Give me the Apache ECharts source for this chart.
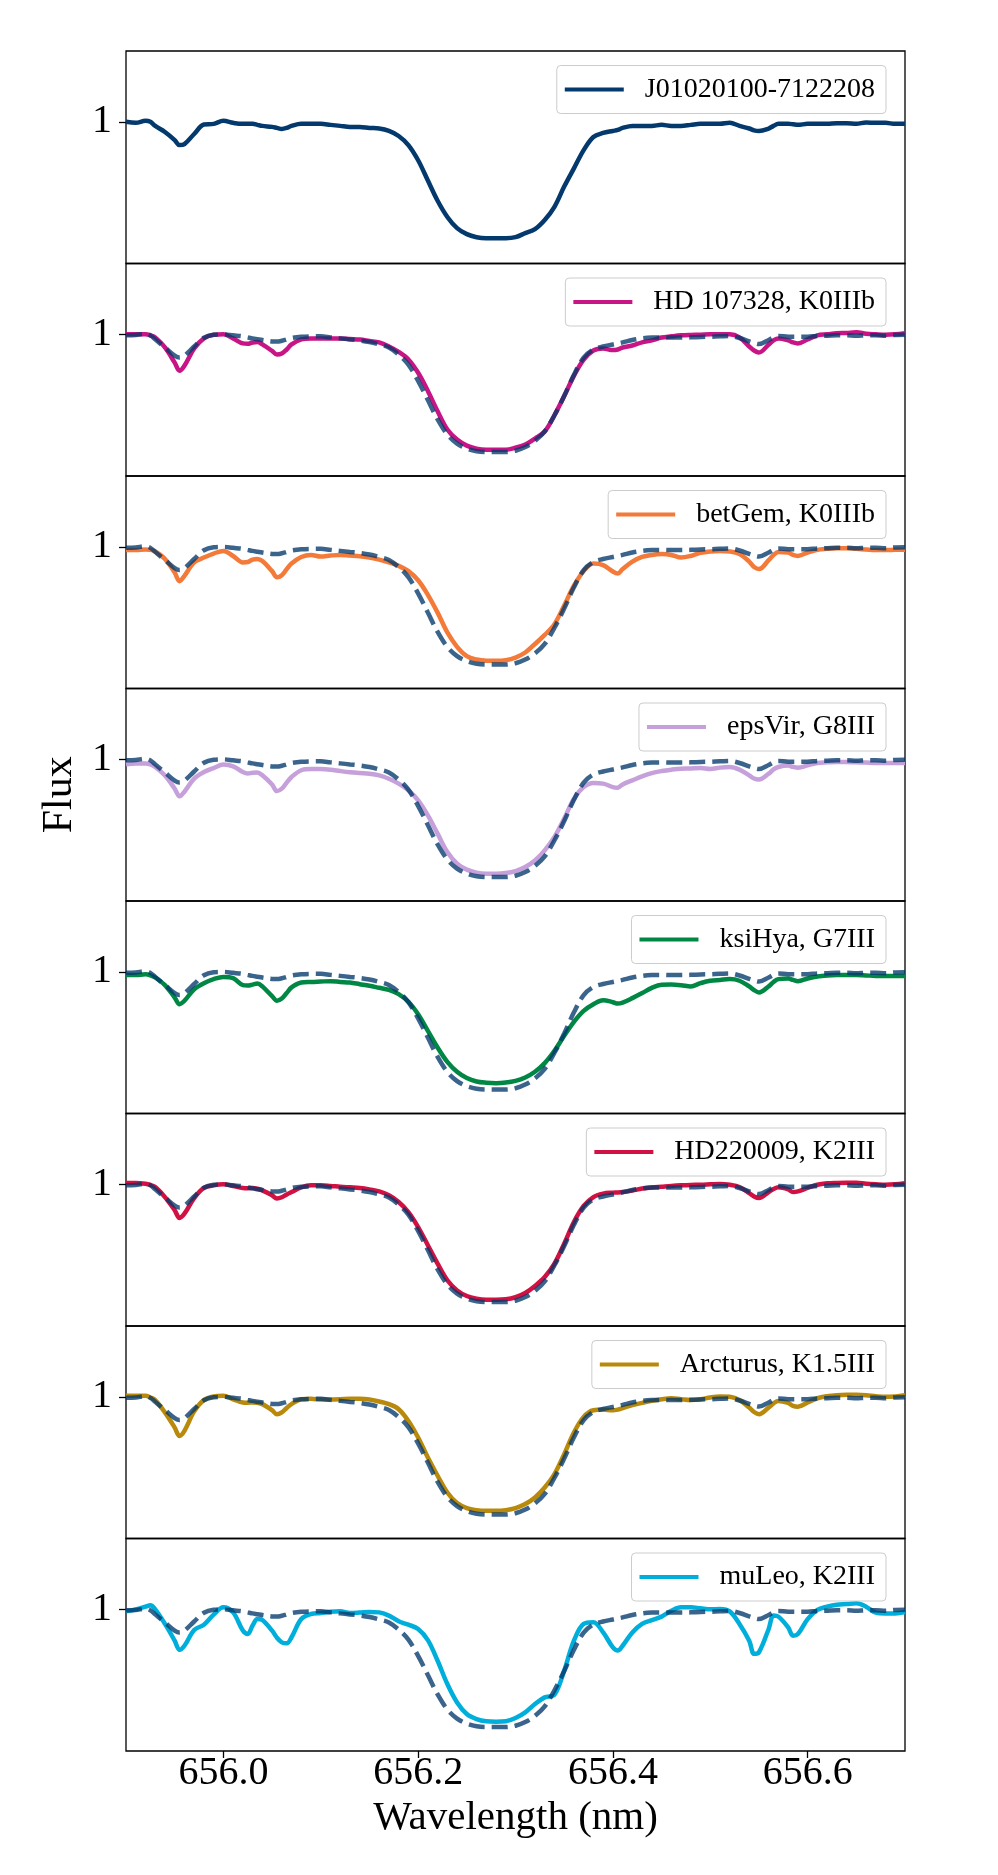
<!DOCTYPE html>
<html>
<head>
<meta charset="utf-8">
<title>H-alpha comparison</title>
<script src="https://cdn.jsdelivr.net/npm/echarts@6/dist/echarts.min.js"></script>
<style>
  html, body { margin: 0; padding: 0; background: #fff; }
  #chart { width: 998px; height: 1875px; }
</style>
</head>
<body>
<div id="chart"></div>
<script>
// wavelength grid (nm), shared by every spectrum
var wavelength = [
  655.90, 655.91, 655.92, 655.925, 655.93, 655.94, 655.95, 655.955, 655.96, 655.97,
  655.98, 655.99, 656.00, 656.01, 656.02, 656.025, 656.03, 656.035, 656.04, 656.05,
  656.055, 656.06, 656.065, 656.07, 656.08, 656.09, 656.10, 656.11, 656.12, 656.13,
  656.14, 656.15, 656.16, 656.17, 656.18, 656.19, 656.20, 656.21, 656.22, 656.23,
  656.24, 656.25, 656.26, 656.27, 656.28, 656.29, 656.30, 656.31, 656.32, 656.33,
  656.34, 656.35, 656.36, 656.37, 656.38, 656.39, 656.40, 656.405, 656.41, 656.42,
  656.43, 656.44, 656.45, 656.46, 656.47, 656.48, 656.49, 656.50, 656.51, 656.52,
  656.53, 656.54, 656.545, 656.55, 656.56, 656.565, 656.57, 656.58, 656.585, 656.59,
  656.60, 656.61, 656.62, 656.63, 656.64, 656.65, 656.66, 656.67, 656.68, 656.69,
  656.70
];

var fluxJ0102 = [
  1.0, 0.995, 1.005, 1.0, 0.98, 0.95, 0.91, 0.885, 0.89, 0.94,
  0.987, 0.99, 1.005, 0.995, 0.99, 0.99, 0.99, 0.985, 0.98, 0.975,
  0.97, 0.965, 0.97, 0.98, 0.99, 0.99, 0.99, 0.985, 0.98, 0.975,
  0.975, 0.97, 0.967, 0.955, 0.93, 0.885, 0.81, 0.71, 0.61, 0.53,
  0.475, 0.445, 0.43, 0.425, 0.425, 0.425, 0.43, 0.45, 0.47, 0.515,
  0.58, 0.68, 0.77, 0.86, 0.925, 0.945, 0.955, 0.96, 0.97, 0.98,
  0.98, 0.98, 0.985, 0.98, 0.98, 0.985, 0.99, 0.99, 0.99, 0.995,
  0.98, 0.967, 0.958, 0.955, 0.967, 0.98, 0.99, 0.99, 0.988, 0.985,
  0.99, 0.99, 0.99, 0.993, 0.993, 0.99, 0.997, 0.995, 0.995, 0.99,
  0.99
];

// dashed comparison spectrum drawn in panels 2-8
var fluxTemplate = [
  0.995, 0.997, 1.003, 0.995, 0.975, 0.935, 0.895, 0.885, 0.895, 0.94,
  0.983, 0.998, 1.0, 0.995, 0.99, 0.985, 0.98, 0.976, 0.972, 0.965,
  0.964, 0.968, 0.975, 0.982, 0.988, 0.99, 0.99, 0.985, 0.98, 0.975,
  0.97, 0.962, 0.95, 0.935, 0.9, 0.85, 0.77, 0.675, 0.58, 0.505,
  0.46, 0.435, 0.422, 0.418, 0.418, 0.418, 0.425, 0.443, 0.473, 0.52,
  0.60, 0.695, 0.80, 0.885, 0.925, 0.94, 0.95, 0.955, 0.96, 0.972,
  0.98, 0.984, 0.985, 0.984, 0.984, 0.985, 0.987, 0.988, 0.99, 0.992,
  0.982, 0.965, 0.957, 0.952, 0.972, 0.985, 0.992, 0.988, 0.988, 0.988,
  0.988, 0.992, 0.993, 0.995, 0.995, 0.993, 0.995, 0.995, 0.993, 0.997,
  0.998
];

var fluxHD107328 = [
  1.0, 1.0, 1.0, 0.995, 0.985, 0.935, 0.86, 0.82, 0.845, 0.93,
  0.98, 0.998, 1.0, 0.98, 0.955, 0.953, 0.96, 0.962, 0.95, 0.918,
  0.90, 0.905, 0.925, 0.95, 0.975, 0.98, 0.98, 0.98, 0.98, 0.977,
  0.974, 0.967, 0.96, 0.94, 0.913, 0.876, 0.81, 0.72, 0.62, 0.53,
  0.48, 0.45, 0.435, 0.43, 0.43, 0.43, 0.44, 0.455, 0.485, 0.52,
  0.60, 0.695, 0.795, 0.875, 0.92, 0.93, 0.922, 0.925, 0.935, 0.945,
  0.96, 0.97, 0.984, 0.99, 0.995, 0.997, 0.998, 1.0, 1.0, 1.0,
  0.985, 0.94, 0.92, 0.91, 0.95, 0.97, 0.98, 0.97, 0.96, 0.955,
  0.975, 0.995, 1.0, 1.005, 1.007, 1.01, 1.003, 1.0, 0.998, 1.0,
  1.005
];

var fluxBetGem = [
  0.984, 0.984, 0.987, 0.985, 0.977, 0.94, 0.873, 0.83, 0.857, 0.923,
  0.947, 0.967, 0.98, 0.955, 0.923, 0.925, 0.937, 0.94, 0.93, 0.88,
  0.85, 0.86, 0.89, 0.918, 0.95, 0.96, 0.952, 0.957, 0.96, 0.957,
  0.954, 0.947, 0.937, 0.923, 0.906, 0.88, 0.835, 0.763, 0.675, 0.577,
  0.506, 0.46, 0.443, 0.437, 0.437, 0.44, 0.453, 0.478, 0.52, 0.565,
  0.618, 0.71, 0.808, 0.88, 0.918, 0.91, 0.878, 0.868, 0.89, 0.927,
  0.95, 0.96, 0.964, 0.96, 0.947, 0.955, 0.97, 0.977, 0.98, 0.977,
  0.964, 0.927, 0.9, 0.89, 0.934, 0.96, 0.974, 0.972, 0.96, 0.955,
  0.972, 0.985, 0.99, 0.993, 0.993, 0.99, 0.987, 0.984, 0.984, 0.985,
  0.985
];

var fluxEpsVir = [
  0.975, 0.979, 0.979, 0.975, 0.962, 0.92, 0.855, 0.817, 0.84, 0.905,
  0.937, 0.957, 0.974, 0.965, 0.937, 0.93, 0.934, 0.935, 0.921, 0.876,
  0.843, 0.855, 0.885, 0.913, 0.946, 0.952, 0.952, 0.949, 0.942, 0.936,
  0.932, 0.929, 0.921, 0.904, 0.88, 0.847, 0.797, 0.723, 0.633, 0.542,
  0.485, 0.455, 0.44, 0.435, 0.435, 0.438, 0.448, 0.468, 0.50, 0.55,
  0.616, 0.707, 0.806, 0.863, 0.883, 0.88, 0.863, 0.86, 0.876, 0.896,
  0.916, 0.932, 0.942, 0.949, 0.954, 0.955, 0.957, 0.952, 0.959, 0.962,
  0.949, 0.921, 0.905, 0.90, 0.929, 0.95, 0.962, 0.969, 0.963, 0.959,
  0.97, 0.982, 0.985, 0.987, 0.987, 0.985, 0.984, 0.982, 0.982, 0.982,
  0.982
];

var fluxKsiHya = [
  0.984, 0.984, 0.988, 0.983, 0.972, 0.934, 0.873, 0.84, 0.857, 0.914,
  0.944, 0.964, 0.975, 0.969, 0.934, 0.932, 0.937, 0.942, 0.928, 0.88,
  0.857, 0.868, 0.895, 0.923, 0.947, 0.95, 0.952, 0.954, 0.95, 0.947,
  0.939, 0.931, 0.921, 0.911, 0.89, 0.852, 0.79, 0.708, 0.626, 0.555,
  0.506, 0.475, 0.458, 0.452, 0.45, 0.453, 0.461, 0.478, 0.506, 0.549,
  0.61, 0.684, 0.753, 0.807, 0.84, 0.86, 0.85, 0.843, 0.848, 0.87,
  0.895, 0.921, 0.936, 0.937, 0.934, 0.928, 0.944, 0.956, 0.96, 0.964,
  0.956, 0.928, 0.91, 0.898, 0.928, 0.95, 0.964, 0.967, 0.96, 0.954,
  0.967, 0.977, 0.982, 0.984, 0.984, 0.984, 0.982, 0.98, 0.979, 0.979,
  0.979
];

var fluxHD220009 = [
  1.007, 1.007, 1.003, 0.997, 0.987, 0.937, 0.872, 0.834, 0.855, 0.932,
  0.982, 0.995, 1.0, 0.992, 0.982, 0.981, 0.982, 0.978, 0.97, 0.946,
  0.93, 0.936, 0.95, 0.962, 0.985, 0.995, 0.995, 0.992, 0.988, 0.985,
  0.982, 0.975, 0.965, 0.946, 0.913, 0.863, 0.789, 0.699, 0.608, 0.526,
  0.476, 0.448, 0.435, 0.43, 0.43, 0.432, 0.442, 0.463, 0.498, 0.542,
  0.608, 0.707, 0.814, 0.893, 0.937, 0.954, 0.959, 0.96, 0.962, 0.969,
  0.979, 0.984, 0.988, 0.992, 0.995, 0.997, 0.998, 1.0, 1.002, 0.998,
  0.987, 0.957, 0.94, 0.932, 0.962, 0.977, 0.985, 0.975, 0.962, 0.965,
  0.982, 0.998, 1.005, 1.007, 1.008, 1.008, 1.003, 1.0, 0.998, 1.0,
  1.005
];

var fluxArcturus = [
  1.005, 1.005, 1.005, 0.997, 0.984, 0.923, 0.848, 0.807, 0.832, 0.928,
  0.984, 1.002, 1.005, 0.988, 0.972, 0.971, 0.972, 0.97, 0.964, 0.934,
  0.914, 0.923, 0.945, 0.964, 0.988, 0.99, 0.987, 0.987, 0.988, 0.99,
  0.99, 0.987, 0.977, 0.964, 0.939, 0.881, 0.799, 0.70, 0.61, 0.527,
  0.475, 0.45, 0.44, 0.437, 0.437, 0.44, 0.45, 0.47, 0.503, 0.552,
  0.618, 0.717, 0.824, 0.901, 0.934, 0.937, 0.934, 0.937, 0.944, 0.959,
  0.97, 0.98, 0.988, 0.993, 0.988, 0.984, 0.988, 0.997, 1.002, 1.0,
  0.984, 0.947, 0.925, 0.914, 0.947, 0.968, 0.98, 0.97, 0.955, 0.951,
  0.972, 0.993, 1.003, 1.008, 1.01, 1.01, 1.008, 1.003, 1.0, 1.002,
  1.008
];

var fluxMuLeo = [
  0.99, 1.0, 1.013, 1.02, 1.0, 0.928, 0.845, 0.80, 0.82, 0.898,
  0.924, 0.974, 1.01, 0.985, 0.895, 0.878, 0.92, 0.952, 0.947, 0.895,
  0.86, 0.837, 0.832, 0.862, 0.952, 0.977, 0.982, 0.988, 0.99, 0.982,
  0.984, 0.987, 0.985, 0.969, 0.941, 0.924, 0.903, 0.848, 0.746, 0.631,
  0.54, 0.483, 0.458, 0.447, 0.445, 0.447, 0.463, 0.491, 0.532, 0.565,
  0.578, 0.697, 0.845, 0.928, 0.936, 0.886, 0.812, 0.796, 0.82, 0.886,
  0.928, 0.947, 0.964, 0.993, 1.01, 1.01, 1.005, 1.0, 1.002, 0.99,
  0.928, 0.845, 0.78, 0.788, 0.903, 0.97, 0.964, 0.911, 0.87, 0.878,
  0.952, 0.997, 1.013, 1.023, 1.026, 1.03, 1.013, 0.984, 0.98, 0.98,
  0.987
];

var starNames = [
  'J01020100-7122208', 'HD 107328, K0IIIb', 'betGem, K0IIIb', 'epsVir, G8III',
  'ksiHya, G7III', 'HD220009, K2III', 'Arcturus, K1.5III', 'muLeo, K2III'
];
var starColors = [
  '#03396c', '#c71585', '#f37a38', '#c6a0da',
  '#008744', '#d11141', '#b8890b', '#00aedb'
];
var starFlux = [
  fluxJ0102, fluxHD107328, fluxBetGem, fluxEpsVir,
  fluxKsiHya, fluxHD220009, fluxArcturus, fluxMuLeo
];
var xTicks = [656.0, 656.2, 656.4, 656.6];
var yTicks = [1];

var serif = "'Liberation Serif', 'DejaVu Serif', serif";
var panelTop = 51, panelH = 212.5;
var last = starNames.length - 1;

function pairs(flux) {
  return wavelength.map(function (w, k) { return [w, flux[k]]; });
}

var grids = [], xAxes = [], yAxes = [], legends = [], series = [];

starNames.forEach(function (name, i) {
  var top = panelTop + i * panelH;
  grids.push({
    left: 126, right: 93, top: top, height: panelH,
    show: true, borderColor: '#000', borderWidth: 1.3,
    backgroundColor: 'transparent', containLabel: false, outerBoundsMode: 'none'
  });
  xAxes.push({
    type: 'value', gridIndex: i, min: 655.9, max: 656.7,
    axisLine: { show: false },
    splitLine: { show: false },
    axisTick: { show: i === last, customValues: xTicks, length: 7, lineStyle: { color: '#000', width: 1.3 } },
    axisLabel: {
      show: i === last, customValues: xTicks, margin: 2,
      formatter: function (v) { return v.toFixed(1); },
      fontFamily: serif, fontSize: 40, color: '#000'
    },
    name: i === last ? 'Wavelength (nm)' : '',
    nameLocation: 'middle', nameGap: 47,
    nameTextStyle: { fontFamily: serif, fontSize: 41, color: '#000' }
  });
  yAxes.push({
    type: 'value', gridIndex: i, min: 0.3, max: 1.35,
    axisLine: { show: false },
    splitLine: { show: false },
    axisTick: { show: true, customValues: yTicks, length: 7, lineStyle: { color: '#000', width: 1.3 } },
    axisLabel: {
      customValues: yTicks, margin: 14,
      fontFamily: serif, fontSize: 40, color: '#000'
    },
    name: i === 3 ? 'Flux' : '',
    nameLocation: 'middle', nameRotate: 90, nameGap: 38,
    nameTextStyle: { fontFamily: serif, fontSize: 42, color: '#000' }
  });
  legends.push({
    data: [name], right: 112, top: top + 14.5,
    selectedMode: false,
    backgroundColor: '#fff', borderColor: '#cccccc', borderWidth: 1, borderRadius: 4,
    padding: [7, 11, 7, 8],
    icon: 'rect', itemWidth: 59, itemHeight: 4,
    textStyle: { fontFamily: serif, fontSize: 28, color: '#000', lineHeight: 34, padding: [0, 0, 0, 16] }
  });
  series.push({
    type: 'line', name: name, xAxisIndex: i, yAxisIndex: i,
    data: pairs(starFlux[i]),
    color: starColors[i],
    showSymbol: false, symbol: 'none',
    smooth: 0.35,
    lineStyle: { width: 4.5, color: starColors[i] },
    z: 2
  });
  if (i > 0) {
    series.push({
      type: 'line', name: 'comparison ' + i, xAxisIndex: i, yAxisIndex: i,
      data: pairs(fluxTemplate),
      showSymbol: false, symbol: 'none',
      smooth: 0.35,
      lineStyle: { width: 4.5, type: [16, 7], color: 'rgba(3,57,108,0.78)' },
      z: 3
    });
  }
});

var chart = echarts.init(document.getElementById('chart'));
chart.setOption({
  animation: false,
  backgroundColor: '#fff',
  grid: grids,
  xAxis: xAxes,
  yAxis: yAxes,
  legend: legends,
  series: series
});
</script>
</body>
</html>
